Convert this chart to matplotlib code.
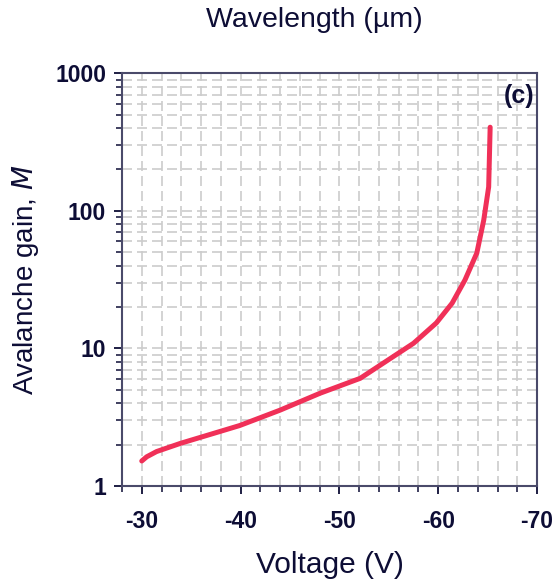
import numpy as np
import matplotlib
matplotlib.use('Agg')
from matplotlib import pyplot as plt
from matplotlib.ticker import MultipleLocator, LogLocator, NullFormatter, FixedLocator

matplotlib.rc('font', family=['Liberation Sans', 'DejaVu Sans'])

voltage = [-30.0, -30.5, -31.5, -33.9, -37.0, -39.9, -44.0, -48.0, -52.1, -55.1, -57.5,
           -59.8, -61.4, -62.7, -63.9, -64.6, -65.1, -65.25]
gain = [1.52, 1.63, 1.78, 2.04, 2.38, 2.75, 3.56, 4.71, 6.06, 8.4, 10.9,
        15.3, 21.3, 31.4, 49.3, 85.5, 149, 405]

xticks = [-30, -40, -50, -60, -70]
yticks = [1, 10, 100, 1000]

navy = '#0d0d35'
spine = '#4a4a6a'

fig = plt.figure(figsize=(5.52, 5.81), dpi=100)
ax = fig.add_axes([0.221, 0.1635, 0.752, 0.7105])

ax.plot(voltage, gain, color='#f03058', lw=3.6, solid_capstyle='round', zorder=5)

ax.set_yscale('log')
ax.set_xlim(-28, -70)
ax.set_ylim(1, 1000)

ax.xaxis.set_major_locator(FixedLocator(xticks))
ax.set_xticklabels([str(v) for v in xticks])
ax.xaxis.set_minor_locator(MultipleLocator(2))
ax.yaxis.set_major_locator(FixedLocator(yticks))
ax.set_yticklabels([str(v) for v in yticks])
ax.yaxis.set_minor_locator(LogLocator(base=10, subs=np.arange(2, 10)))
ax.yaxis.set_minor_formatter(NullFormatter())

ax.grid(True, which='both', color='#cccccc', ls=(0, (6, 3)), lw=1.2)
ax.set_axisbelow(True)

for s in ax.spines.values():
    s.set_color(spine)
    s.set_linewidth(1.5)

ax.tick_params(which='major', direction='out', length=6, width=1.3, color=navy,
               labelsize=16.5, labelcolor=navy, pad=5.5)
ax.tick_params(which='minor', direction='out', length=4, width=1.1, color=navy)
for lab in ax.get_xticklabels() + ax.get_yticklabels():
    lab.set_fontweight('bold')
ax.tick_params(axis='x', pad=11)

ax.set_xlabel('Voltage (V)', fontsize=21.5, color=navy, labelpad=13)
ax.set_ylabel('Avalanche gain, $\\mathit{M}$', fontsize=20, color=navy, labelpad=10)
fig.text(0.57, 0.965, 'Wavelength (\u00b5m)', fontsize=20.5, color=navy, ha='center', va='center')
ax.text(0.993, 0.975, '(c)', transform=ax.transAxes, fontsize=18, fontweight='bold',
        color=navy, ha='right', va='top')

fig.savefig('out.png', dpi=100)
